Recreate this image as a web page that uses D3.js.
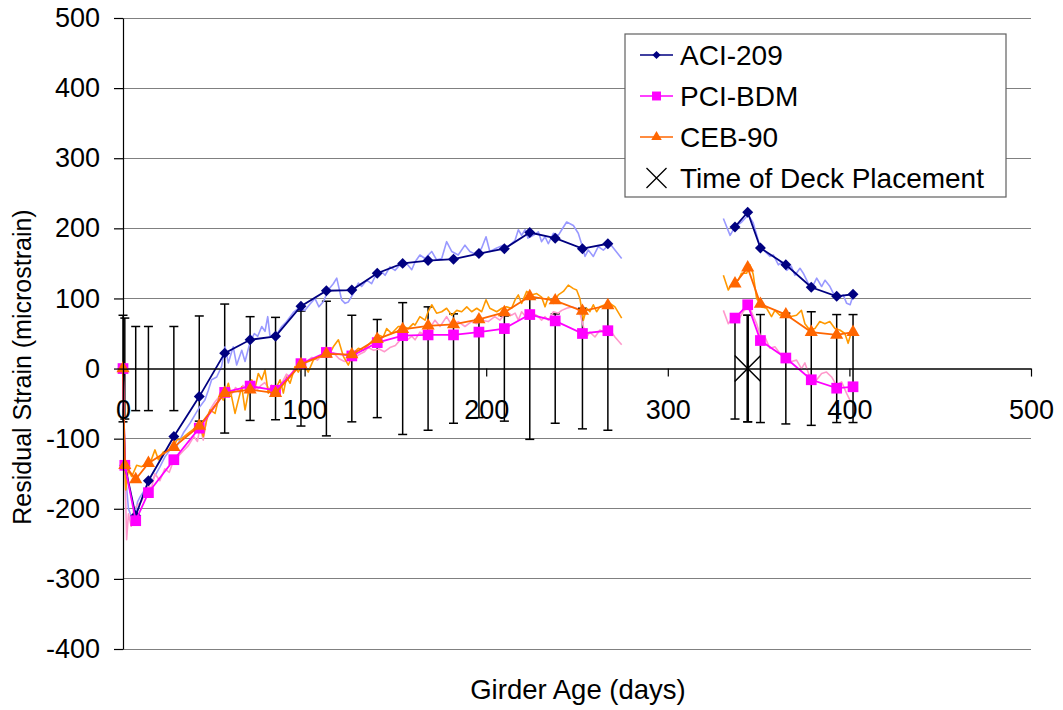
<!DOCTYPE html>
<html>
<head>
<meta charset="utf-8">
<script src="https://cdn.jsdelivr.net/npm/d3@7"></script>
<style>
  body { margin: 0; background: #fff; }
  svg { display: block; }
  text { font-family: "Liberation Sans", Arial, sans-serif; fill: #000; }
</style>
</head>
<body>
<svg id="chart" width="1063" height="710"></svg>
<script>
// ---- data -------------------------------------------------------------
// days at which the model predictions (markers) were evaluated
const markerDays = [0, 1, 7, 14, 28, 42, 56, 70, 84, 98, 112, 126, 140, 154, 168, 182, 196, 210, 224, 238, 253, 267,
                    337, 344, 351, 365, 379, 393, 402];
const aci209 = [0, -138, -210, -160, -97, -40, 22, 41, 46, 89, 111, 112, 136, 150, 154, 156, 164, 171, 194, 186, 171, 178,
                202, 223, 172, 148, 116, 103, 106];
const pciBdm = [0, -138, -217, -177, -130, -85, -34, -25, -31, 7, 23, 18, 37, 47, 48, 48, 52, 57, 77, 68, 50, 54,
                72, 91, 40, 15, -16, -28, -26];
const ceb90 = [0, -138, -158, -135, -112, -82, -35, -30, -35, 6, 21, 20, 42, 56, 61, 63, 70, 80, 103, 97, 82, 90,
               121, 144, 92, 77, 52, 48, 52];
// measured scatter (half range) about zero at each marker day
const errorHalf = [76, 72, 60, 60, 60, 75, 92, 74, 73, 82, 96, 76, 70, 94, 88, 78, 70, 75, 101, 78, 86, 88,
                   72, 76, 77, 79, 81, 77, 77];

// deck placement
const deckDay = 344;
const deckValue = 0;
const deckHalf = 76;

// continuous gauge-derived curves [day, microstrain]
const aciMeasured = [[0,0],[1,-140],[3,-200],[5,-214],[7,-205],[8,-190],[9.4,-183],[11.2,-176],[13,-169],[16.7,-157],
  [20.4,-140],[23.1,-126],[25.9,-116],[29.6,-111],[33.2,-92],[36.9,-78],[39.6,-66],[42.4,-54],[45.1,-45],[47,-31],
  [48.8,-16],[51.6,-12],[54.3,3],[56.2,31],[58,8],[60.7,31],[62.6,5],[65.4,26],[67.2,10],[69.9,37],[72.3,50],
  [74.2,46],[76.4,60],[78.2,53],[79.7,74],[80.9,47],[83.7,45],[87.4,60],[90.1,67],[93.8,80],[96.5,86],[100.2,83],
  [103,92],[105.7,100],[107.9,88],[110.5,96],[113,112],[115.8,121],[117.7,129],[120.4,98],[122.3,93],[124.1,95],
  [126.8,107],[129.6,122],[131.4,117],[134.2,126],[136.9,121],[138.8,131],[142.5,138],[144.3,133],[147,145],
  [149.8,140],[152.5,148],[156.2,150],[159,141],[160.8,152],[163.5,162],[166.3,157],[170,167],[172.7,155],
  [175.5,157],[178.2,181],[181,167],[184.6,162],[188.3,176],[191,167],[194.8,162],[197.5,172],[199.9,188],
  [202,167],[205.8,172],[209.4,176],[212.2,174],[215.9,183],[217.7,198],[219.5,190],[221.4,198],[223,186],
  [226,190],[228.7,195],[230.5,181],[232.4,188],[234.2,178],[237,193],[239.7,190],[241.6,198],[244.3,209],
  [248,204],[250.7,193],[252.5,178],[254.4,160],[256.2,169],[259,160],[261.7,174],[264.5,169],[268.2,178],
  [270.9,169],[274.6,157],
  [330.6,214],[334.3,190],[337,202],[340.7,209],[344.3,219],[347,208],[350.8,174],[353.5,167],[356.3,160],
  [358.1,162],[360.9,148],[362.7,152],[365.5,140],[368,146],[370,133],[372.8,143],[374.6,136],[377.4,121],
  [380.1,119],[382,129],[384.7,117],[386.6,126],[389.3,117],[391.2,107],[393.9,100],[396.6,105],[398.5,93],
  [400.4,91],[401.5,100],[402.2,103]];

const pciMeasured = [[0,0],[1,-138],[2,-244],[3,-207],[4.5,-225],[6,-200],[8,-195],[10,-190],[12,-180],[14,-165],
  [15.5,-172],[17.6,-150],[20.3,-160],[23,-143],[25.5,-148],[28,-130],[30,-126],[33,-118],[36,-110],[39,-97],
  [41,-104],[42.4,-83],[44.2,-102],[46,-72],[47.9,-59],[50.5,-48],[53,-40],[55.2,-38],[57.5,-30],[60,-36],
  [62,-27],[64,-34],[66,-24],[68,-30],[70,-26],[72,-22],[74,-30],[76,-24],[78,-20],[80,-27],[82,-32],[84,-30],
  [86,-26],[88,-18],[90,-8],[92,-12],[94,-2],[96,3],[98,6],[101,10],[104,16],[107,12],[110,20],[113,17],
  [116,22],[119,14],[122,10],[124,12],[127,14],[130,20],[133,24],[135,30],[138,26],[141,28],[144,24],[147,30],
  [150,33],[153,42],[156,40],[159,46],[160.8,41],[163.5,52],[166.3,48],[169,58],[171.8,69],[174.6,60],
  [178.2,74],[181,62],[184.6,67],[188.3,60],[191.9,67],[194.8,64],[197.5,69],[201.1,67],[204.7,74],[207.5,69],
  [211.2,81],[213.9,76],[215.9,79],[217.7,69],[219.5,81],[222.3,72],[225,79],[227.8,76],[230.5,69],[232.4,74],
  [234.2,69],[237,81],[239.7,79],[241.6,83],[244.3,86],[247.1,88],[249.8,86],[251.6,79],[253.5,60],[255.3,45],
  [257.1,52],[259.9,45],[262.6,55],[265.4,50],[268.2,55],[270.9,45],[274.6,34],
  [330.6,83],[333.3,64],[336.1,74],[338.8,69],[341.5,81],[344.3,89],[346.1,81],[348.9,64],[351.6,41],
  [353.5,45],[356.2,29],[359,31],[361.7,22],[364.5,17],[368.1,10],[370.9,12],[373.6,0],[375.5,8],[378.2,-12],
  [381,-19],[384.7,-7],[387.4,-5],[390.2,-12],[392.9,-24],[395.7,-19],[398.4,-35],[400.3,-45]];

const cebMeasured = [[0,0],[1,-138],[1.5,-173],[2.9,-145],[4.8,-154],[7.5,-138],[10.3,-140],[13,-135],[14.9,-135],
  [17.6,-116],[19.5,-130],[22.2,-119],[25,-116],[27.7,-112],[29.6,-102],[32.3,-100],[36,-92],[39.6,-85],
  [42.4,-81],[44.2,-97],[46.1,-73],[47.9,-59],[50.7,-64],[53.4,-35],[55.2,-45],[58,-21],[59.8,-40],[61.7,-64],
  [63.5,-45],[65.4,-26],[67.2,-59],[69,-35],[70.9,-16],[72.7,-28],[74.5,-7],[76.4,-16],[78.2,-2],[80,-35],
  [81.9,-24],[83.7,-31],[86.5,-16],[88.3,-35],[90.1,-12],[92,-21],[94.7,3],[96.5,-5],[99.3,7],[102,-5],
  [104.8,12],[107.5,17],[110.3,19],[113,17],[115.8,31],[118.6,41],[121.4,17],[124.1,5],[126.8,22],[129.6,29],
  [132.3,26],[135.1,34],[137.8,41],[140.6,48],[143.3,45],[145.2,57],[147.9,50],[151.6,60],[154.3,60],
  [157.1,57],[159.8,64],[160.8,62],[163.5,74],[166.3,69],[168,81],[170,91],[172.7,79],[175.5,81],[178.2,86],
  [181,76],[183.8,83],[186.5,81],[189.3,88],[192,81],[194.8,86],[197.5,81],[199.9,98],[202,86],[205.8,81],
  [208.6,86],[211.2,88],[214,86],[215.9,98],[217.7,105],[219.5,93],[222.3,110],[225,105],[227.8,107],
  [230.5,102],[232.4,88],[234.2,102],[237,93],[239.7,105],[242.5,110],[245.2,119],[248,114],[249.8,112],
  [251.6,100],[253.5,69],[255.3,86],[257.1,81],[259,91],[260.8,81],[262.6,88],[265.4,91],[268.2,93],
  [270.9,88],[274.6,72],
  [330.6,133],[333.3,112],[336.1,124],[338.8,126],[340.6,136],[343.4,136],[345.2,148],[347,135],[348.9,100],
  [351.6,88],[354.4,86],[357.1,74],[359,83],[361.7,76],[364.5,81],[367.2,74],[370.9,76],[373.6,83],[375.5,64],
  [378.2,55],[381,57],[383.7,67],[386.5,64],[389.2,67],[392,57],[394.7,55],[397.5,50],[399.3,36],[401.1,52],
  [402.1,52]];

const xTicks = [0, 100, 200, 300, 400, 500];
const yTicks = [-400, -300, -200, -100, 0, 100, 200, 300, 400, 500];

const xTitle = "Girder Age (days)";
const yTitle = "Residual Strain (microstrain)";
const legendLabels = ["ACI-209", "PCI-BDM", "CEB-90", "Time of Deck Placement"];

// ---- setup ------------------------------------------------------------
const svg = d3.select("#chart");
const x = d3.scaleLinear().domain([0, 500]).range([123, 1031]);
const y = d3.scaleLinear().domain([-400, 500]).range([649, 18]);

// split a [day,value] series wherever there is a long gap in readings
function splitRuns(points, gap = 30) {
  const runs = [];
  let cur = [];
  points.forEach((p, i) => {
    if (i > 0 && p[0] - points[i - 1][0] > gap) { runs.push(cur); cur = []; }
    cur.push(p);
  });
  runs.push(cur);
  return runs;
}
const line = d3.line().x(d => x(d[0])).y(d => y(d[1]));

// ---- grid -------------------------------------------------------------
svg.append("g").selectAll("line").data(yTicks).join("line")
  .attr("x1", x(0)).attr("x2", x(500))
  .attr("y1", d => y(d)).attr("y2", d => y(d))
  .attr("stroke", "#808080").attr("stroke-width", 1).attr("shape-rendering", "crispEdges");

// ---- error bars ---------------------------------------------------------
const bars = markerDays.map((d, i) => ({ day: d, half: errorHalf[i] }));
bars.push({ day: deckDay, half: deckHalf, deck: true });
const ebar = svg.append("g").attr("stroke", "#000");
ebar.selectAll("line.v").data(bars).join("line")
  .attr("x1", d => x(d.day)).attr("x2", d => x(d.day))
  .attr("y1", d => y(d.half)).attr("y2", d => y(-d.half))
  .attr("stroke-width", d => d.deck ? 2.5 : 1.5);
["top", "bottom"].forEach(side => {
  ebar.selectAll("line." + side).data(bars).join("line")
    .attr("x1", d => x(d.day) - 4.5).attr("x2", d => x(d.day) + 4.5)
    .attr("y1", d => y(side === "top" ? d.half : -d.half))
    .attr("y2", d => y(side === "top" ? d.half : -d.half))
    .attr("stroke-width", 1.5);
});

// ---- measured curves ------------------------------------------------------
const measured = [
  { data: aciMeasured, color: "#9999ff" },
  { data: pciMeasured, color: "#ff99cc" },
  { data: cebMeasured, color: "#ff9900" }
];
measured.forEach(m => {
  svg.append("g").selectAll("path").data(splitRuns(m.data)).join("path")
    .attr("d", line).attr("fill", "none")
    .attr("stroke", m.color).attr("stroke-width", 1.6).attr("stroke-linejoin", "round");
});

// ---- model predictions ------------------------------------------------------
const models = [
  { values: aci209, color: "#000080", symbol: d3.symbolSquare, size: 60, rotate: 45, legendSize: 34 },
  { values: pciBdm, color: "#ff00ff", symbol: d3.symbolSquare, size: 115, rotate: 0, legendSize: 80 },
  { values: ceb90, color: "#ff6600", symbol: d3.symbolTriangle, size: 75, rotate: 0, legendSize: 48 }
];
models.forEach(m => {
  const pts = markerDays.map((d, i) => [d, m.values[i]]);
  const g = svg.append("g");
  g.selectAll("path.ln").data(splitRuns(pts)).join("path")
    .attr("d", line).attr("fill", "none")
    .attr("stroke", m.color).attr("stroke-width", 1.8);
  g.selectAll("path.mk").data(pts).join("path")
    .attr("d", d3.symbol(m.symbol, m.size))
    .attr("transform", d => `translate(${x(d[0])},${y(d[1])}) rotate(${m.rotate})`)
    .attr("fill", m.color);
});

// deck placement marker
svg.append("path")
  .attr("d", d3.symbol(d3.symbolX, 443))
  .attr("transform", `translate(${x(deckDay)},${y(deckValue)})`)
  .attr("fill", "none").attr("stroke", "#000").attr("stroke-width", 1.5);

// ---- axes -------------------------------------------------------------
const yAxis = svg.append("g").attr("transform", `translate(${x(0)},0)`)
  .call(d3.axisLeft(y).tickValues(yTicks).tickSize(9).tickSizeOuter(0).tickPadding(14)
    .tickFormat(d => String(d)));
yAxis.selectAll("text").attr("font-size", 27).style("font-family", '"Liberation Sans", Arial, sans-serif');

const xAxis = svg.append("g").attr("transform", `translate(0,${y(0)})`)
  .call(d3.axisBottom(x).tickValues(xTicks).tickSize(8).tickSizeOuter(0).tickPadding(23)
    .tickFormat(d => String(d)));
xAxis.selectAll("text").attr("font-size", 27).style("font-family", '"Liberation Sans", Arial, sans-serif');
[yAxis, xAxis].forEach(a => {
  a.selectAll("path, line").attr("stroke", "#000").attr("stroke-width", 1.2);
});

// axis titles
svg.append("text").attr("x", 578).attr("y", 699).attr("text-anchor", "middle")
  .attr("font-size", 27.5).text(xTitle);
svg.append("text").attr("transform", "translate(31,367) rotate(-90)").attr("text-anchor", "middle")
  .attr("font-size", 25).text(yTitle);

// ---- legend -------------------------------------------------------------
const legend = svg.append("g");
legend.append("rect").attr("x", 625).attr("y", 34).attr("width", 381).attr("height", 163)
  .attr("fill", "#fff").attr("stroke", "#606060").attr("stroke-width", 1.2);
const rows = legendLabels.map((label, i) => ({ label, i, cy: 55 + i * 41 }));
rows.forEach(r => {
  const g = legend.append("g").attr("transform", `translate(0,${r.cy})`);
  const m = models[r.i];
  if (m) {
    g.append("line").attr("x1", 640).attr("x2", 673).attr("stroke", m.color).attr("stroke-width", 1.6);
    g.append("path").attr("d", d3.symbol(m.symbol, m.legendSize))
      .attr("transform", `translate(656.5,0) rotate(${m.rotate})`).attr("fill", m.color);
  } else {
    g.append("path").attr("d", d3.symbol(d3.symbolX, 263))
      .attr("transform", "translate(656.5,0)").attr("fill", "none")
      .attr("stroke", "#000").attr("stroke-width", 1.3);
  }
  g.append("text").attr("x", 680).attr("y", 10).attr("font-size", 28).text(r.label);
});
</script>
</body>
</html>
